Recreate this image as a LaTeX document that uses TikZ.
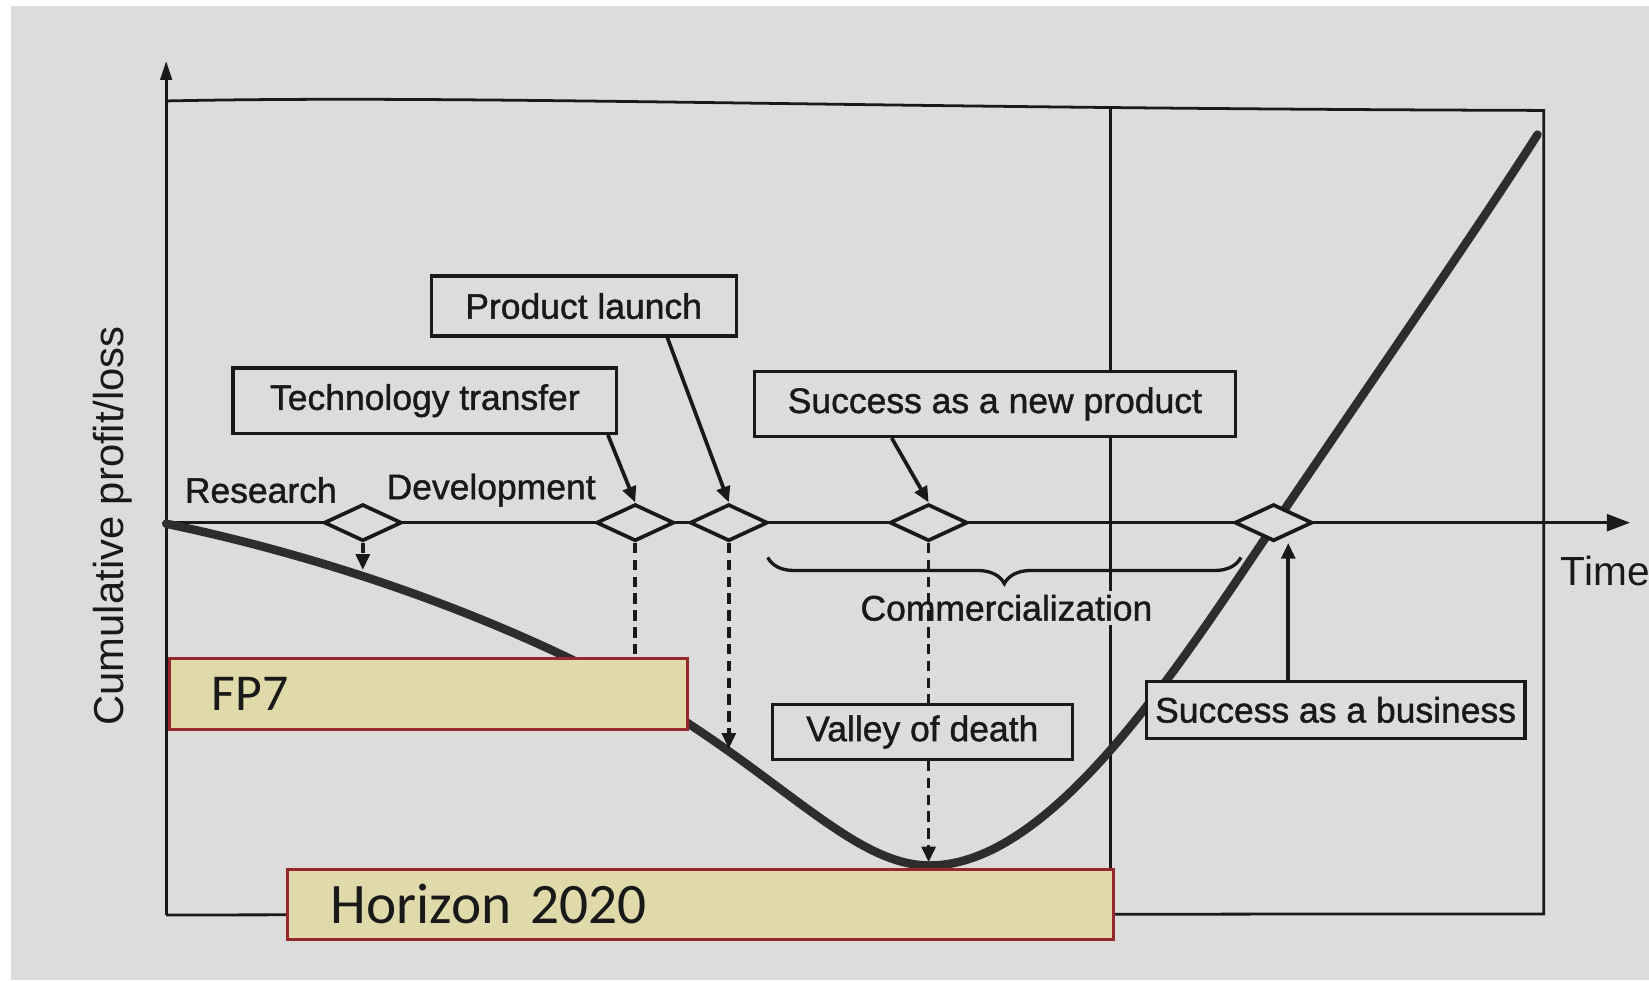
\documentclass[tikz,border=0pt]{standalone}
\usepackage{fontspec}
\setmainfont{Liberation Sans}
\newfontfamily\tagfont[FakeBold=1.2]{Liberation Sans}
\newfontfamily\calibri{Carlito}
\usepackage{tikz}
\usetikzlibrary{positioning,shapes.geometric,arrows.meta,decorations.pathreplacing}

\definecolor{paper}{RGB}{220,220,219}
\definecolor{ink}{RGB}{25,25,25}
\definecolor{curveink}{RGB}{45,45,45}
\definecolor{fundfill}{RGB}{224,217,170}
\definecolor{funddraw}{RGB}{150,40,45}

\begin{document}
\begin{tikzpicture}[x=0.1mm,y=-0.1mm,
    frame/.style={draw=ink, line width=0.75pt},
    milestone/.style={diamond, draw=ink, fill=paper, line width=1pt,
        minimum width=7.4mm, minimum height=3.5mm, inner sep=0pt},
    tagbox/.style={rectangle, draw=ink, fill=paper, line width=0.9pt,
        text=ink, font=\tagfont\fontsize{9.6}{11}\selectfont, inner sep=0pt},
    phase/.style={text=ink, font=\tagfont\fontsize{9.6}{11}\selectfont, inner sep=1pt},
    fund/.style={rectangle, draw=funddraw, fill=fundfill, line width=0.8pt,
        anchor=north west, text=ink, minimum height=6.7mm},
    arr/.style={draw=ink, line width=1pt, -{Triangle[length=1.5mm,width=1.3mm]}},
    dashline/.style={draw=ink, line width=1pt, dash pattern=on 1mm off 0.6mm},
    dasharr/.style={dashline, -{Triangle[length=1.5mm,width=1.3mm]}},
    profit/.style={draw=curveink, line width=2.3pt, line cap=round}
]
% paper
\fill[paper] (0,0) rectangle (1568,932);
\fill[white] (0,0) rectangle (10,932);
\fill[white] (0,0) rectangle (1568,6);
\useasboundingbox (0,0) rectangle (1568,932);

\coordinate (Origin) at (158,497);
\coordinate (YBottom) at (158,870);
\coordinate (YTop) at (158,58);
\coordinate (XEnd) at (1550,497);

% frame and axes
\draw[frame] (158,96) .. controls (450,90) and (800,103) .. (1468,105) -- (1468,869) -- (YBottom);
\draw[frame] (1056,104) -- (1056,870);
\draw[frame, -{Triangle[length=1.8mm,width=1.1mm]}] (YBottom) -- (YTop);
\draw[frame, -{Triangle[length=2.2mm,width=1.6mm]}] (Origin) -- (XEnd);

% profit curve
\draw[profit] (158,498) .. controls (350,538) and (530,610) .. (653,687)
    .. controls (760,757) and (820,823) .. (884,823)
    .. controls (1000,823) and (1120,635) .. (1211,500)
    .. controls (1290,383) and (1400,225) .. (1462,128);

\node[fund, text width=41.2mm, inner xsep=4mm, font=\calibri\fontsize{14}{16}\selectfont]
    (FP7) at (160,625) {FP7};
\node[fund, text width=70.3mm, inner xsep=4.1mm, font=\calibri\fontsize{15.5}{18}\selectfont]
    (H2020) at (272,825) {Horizon 2020};

\draw[frame, line width=0.9pt, decorate, decoration={brace, mirror, amplitude=2.5mm}]
    (730,530) -- (1180,530);
\node[phase, fill=paper] (Commerce) at (957,578) {Commercialization};

\node[milestone] (Diamond01) at (345,497) {};
\node[milestone] (Diamond02) at (604,497) {};
\node[milestone] (Diamond03) at (693,497) {};
\node[milestone] (Diamond04) at (883,497) {};
\node[milestone] (Diamond05) at (1211,497) {};

\node[phase] (Research) at (248,466) {Research};
\node[phase] (Develop) at (467,466) {Development};
\node[phase, anchor=west, font=\fontsize{11}{13}\selectfont] (Time) at (1480,543) {Time};
\node[phase, rotate=90, font=\fontsize{11.3}{13}\selectfont] (YLabel) at (107,500) {Cumulative profit/loss};

\node[tagbox, minimum width=29mm, minimum height=5.7mm] (Launch) at (555,291) {Product launch};
\node[tagbox, minimum width=36.5mm, minimum height=6.2mm] (Transfer) at (404,381) {Technology transfer};
\node[tagbox, minimum width=45.7mm, minimum height=6.2mm] (NewProduct) at (946,384) {Success as a new product};
\node[tagbox, minimum width=28.5mm, minimum height=5.2mm] (Valley) at (877,696) {Valley of death};
\node[tagbox, minimum width=36mm, minimum height=5.4mm] (Business) at (1270,675) {Success as a business};

\draw[arr] ([xshift=-1mm]Transfer.south east) -- (Diamond02.north);
\draw[arr] ([xshift=-6.7mm]Launch.south east) -- (Diamond03.north);
\draw[arr] ([xshift=13.2mm]NewProduct.south west) -- (Diamond04.north);
\draw[arr] ([xshift=-4.5mm]Business.north) -- ([xshift=-4.5mm]Business.north |- Diamond05.south);

% drops to the curve
\coordinate (DropR) at (345,542);
\coordinate (DropD) at (693,712);
\coordinate (DropV) at (883,820);
\draw[dasharr] (Diamond01.south) -- (DropR);
\draw[dashline] (Diamond02.south) -- (Diamond02.south |- FP7.north);
\draw[dasharr] (Diamond03.south) -- (DropD);
\draw[dashline] (Diamond04.south) -- (Diamond04.south |- Valley.north);
\draw[dasharr] (Diamond04.south |- Valley.south) -- (DropV);
\end{tikzpicture}
\end{document}
